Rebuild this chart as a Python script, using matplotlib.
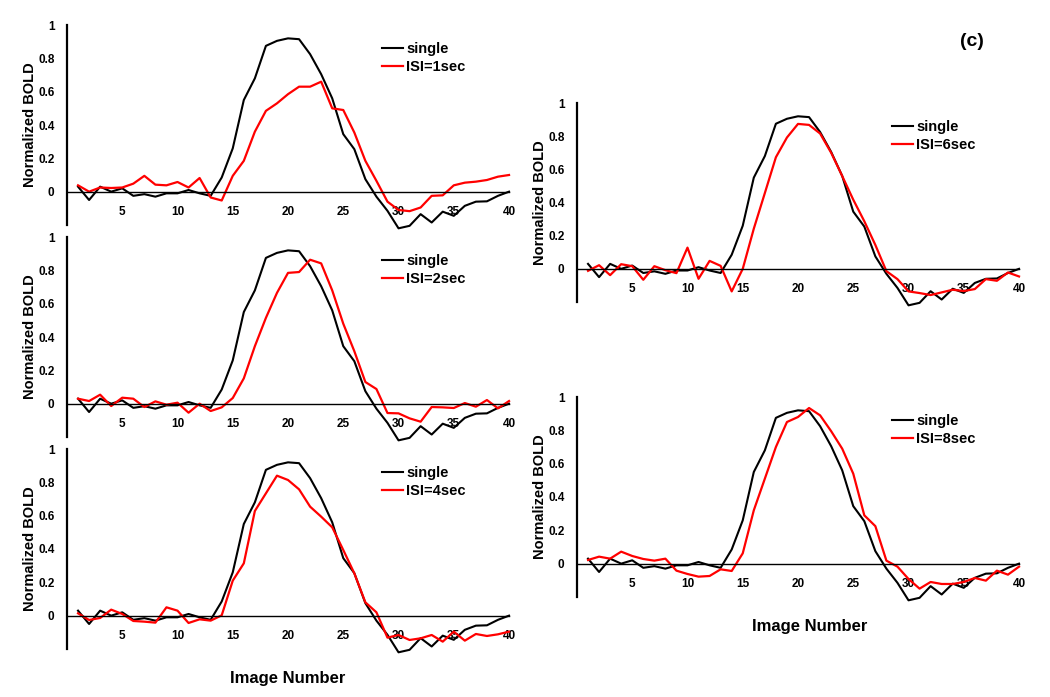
import matplotlib
matplotlib.use("Agg")
import matplotlib.pyplot as plt
import numpy as np

plt.rcParams['font.family'] = ['Liberation Sans', 'DejaVu Sans']
plt.rcParams['font.weight'] = 'bold'

image_number = list(range(1, 41))

single = [0.03, -0.05, 0.03, 0.00, 0.02, -0.025, -0.015, -0.03, -0.01, -0.01,
          0.01, -0.01, -0.025, 0.085, 0.26, 0.55, 0.68, 0.875, 0.905, 0.92,
          0.915, 0.825, 0.705, 0.56, 0.345, 0.255, 0.075, -0.03, -0.115, -0.22,
          -0.205, -0.135, -0.185, -0.12, -0.145, -0.085, -0.06, -0.058, -0.025, 0.0]

isi_1sec = [0.038, 0.0, 0.025, 0.022, 0.025, 0.048, 0.095, 0.042, 0.038, 0.058,
            0.025, 0.082, -0.035, -0.053, 0.095, 0.185, 0.36, 0.485, 0.53, 0.585,
            0.63, 0.63, 0.66, 0.50, 0.49, 0.355, 0.185, 0.065, -0.06, -0.11,
            -0.117, -0.095, -0.025, -0.022, 0.038, 0.054, 0.06, 0.07, 0.09, 0.10]

isi_2sec = [0.03, 0.016, 0.054, -0.014, 0.036, 0.03, -0.02, 0.014, -0.006, 0.006,
            -0.054, 0.0, -0.044, -0.022, 0.034, 0.152, 0.345, 0.515, 0.665, 0.785,
            0.79, 0.864, 0.842, 0.68, 0.48, 0.315, 0.13, 0.088, -0.056, -0.058,
            -0.088, -0.108, -0.02, -0.022, -0.026, 0.004, -0.018, 0.022, -0.028, 0.016]

isi_4sec = [0.014, -0.026, -0.014, 0.036, 0.01, -0.032, -0.036, -0.042, 0.05, 0.03,
            -0.044, -0.022, -0.03, 0.002, 0.21, 0.314, 0.628, 0.734, 0.84, 0.814,
            0.758, 0.654, 0.594, 0.53, 0.394, 0.254, 0.08, 0.02, -0.132, -0.116,
            -0.146, -0.136, -0.116, -0.156, -0.096, -0.15, -0.11, -0.122, -0.112, -0.096]

isi_6sec = [-0.012, 0.022, -0.038, 0.028, 0.016, -0.066, 0.016, -0.008, -0.026, 0.128,
            -0.06, 0.048, 0.018, -0.136, 0.0, 0.242, 0.457, 0.673, 0.792, 0.874,
            0.868, 0.816, 0.70, 0.56, 0.417, 0.287, 0.144, -0.014, -0.062, -0.136,
            -0.146, -0.158, -0.142, -0.126, -0.134, -0.122, -0.062, -0.072, -0.022, -0.046]

isi_8sec = [0.022, 0.042, 0.03, 0.072, 0.046, 0.028, 0.018, 0.03, -0.042, -0.062,
            -0.078, -0.074, -0.034, -0.044, 0.062, 0.32, 0.51, 0.70, 0.85, 0.88,
            0.934, 0.89, 0.795, 0.69, 0.54, 0.29, 0.225, 0.018, -0.018, -0.092,
            -0.15, -0.11, -0.122, -0.122, -0.11, -0.086, -0.102, -0.042, -0.066, -0.018]

x_ticks = [5, 10, 15, 20, 25, 30, 35, 40]
y_ticks = [0, 0.2, 0.4, 0.6, 0.8, 1]
y_ticklabels = ['0', '0.2', '0.4', '0.6', '0.8', '1']

panels = [
    ('ISI=1sec', isi_1sec, [0.0638, 0.6772, 0.421, 0.2869]),
    ('ISI=2sec', isi_2sec, [0.0638, 0.3730, 0.421, 0.2869]),
    ('ISI=4sec', isi_4sec, [0.0638, 0.0689, 0.421, 0.2869]),
    ('ISI=6sec', isi_6sec, [0.5495, 0.5667, 0.421, 0.2855]),
    ('ISI=8sec', isi_8sec, [0.5495, 0.1435, 0.421, 0.2869]),
]

fig = plt.figure(figsize=(10.5, 6.97), dpi=100)

for label, series, rect in panels:
    ax = fig.add_axes(rect)
    ax.plot(image_number, single, color='black', lw=1.5, label='single', clip_on=False)
    ax.plot(image_number, series, color='#ff0000', lw=1.6, label=label, clip_on=False)
    ax.set_xlim(0, 40)
    ax.set_ylim(-0.2, 1.0)
    ax.spines['top'].set_visible(False)
    ax.spines['right'].set_visible(False)
    ax.spines['bottom'].set_position(('data', 0))
    ax.spines['bottom'].set_linewidth(1.0)
    ax.spines['left'].set_linewidth(1.6)
    ax.set_xticks(x_ticks)
    ax.set_yticks(y_ticks)
    ax.set_yticklabels(y_ticklabels)
    ax.tick_params(axis='x', length=0, pad=10, labelsize=8.5)
    ax.tick_params(axis='y', length=0, pad=9, labelsize=8.5)
    for t in ax.get_xticklabels() + ax.get_yticklabels():
        t.set_fontweight('bold')
    ax.set_ylabel('Normalized BOLD', fontsize=10.5, fontweight='bold', labelpad=1)
    ax.legend(loc='center left', bbox_to_anchor=(0.713, 0.835), frameon=False,
              handlelength=1.45, handletextpad=0.2, labelspacing=0.3,
              borderpad=0, borderaxespad=0, prop={'weight': 'bold', 'size': 10.5})

fig.text(288 / 1050, 1 - 679 / 697, 'Image Number', ha='center', va='center',
         fontsize=12, fontweight='bold')
fig.text(810 / 1050, 1 - 627 / 697, 'Image Number', ha='center', va='center',
         fontsize=12, fontweight='bold')
fig.text(972 / 1050, 1 - 42 / 697, '(c)', ha='center', va='center',
         fontsize=14, fontweight='bold')

fig.savefig('out.png', dpi=100)
